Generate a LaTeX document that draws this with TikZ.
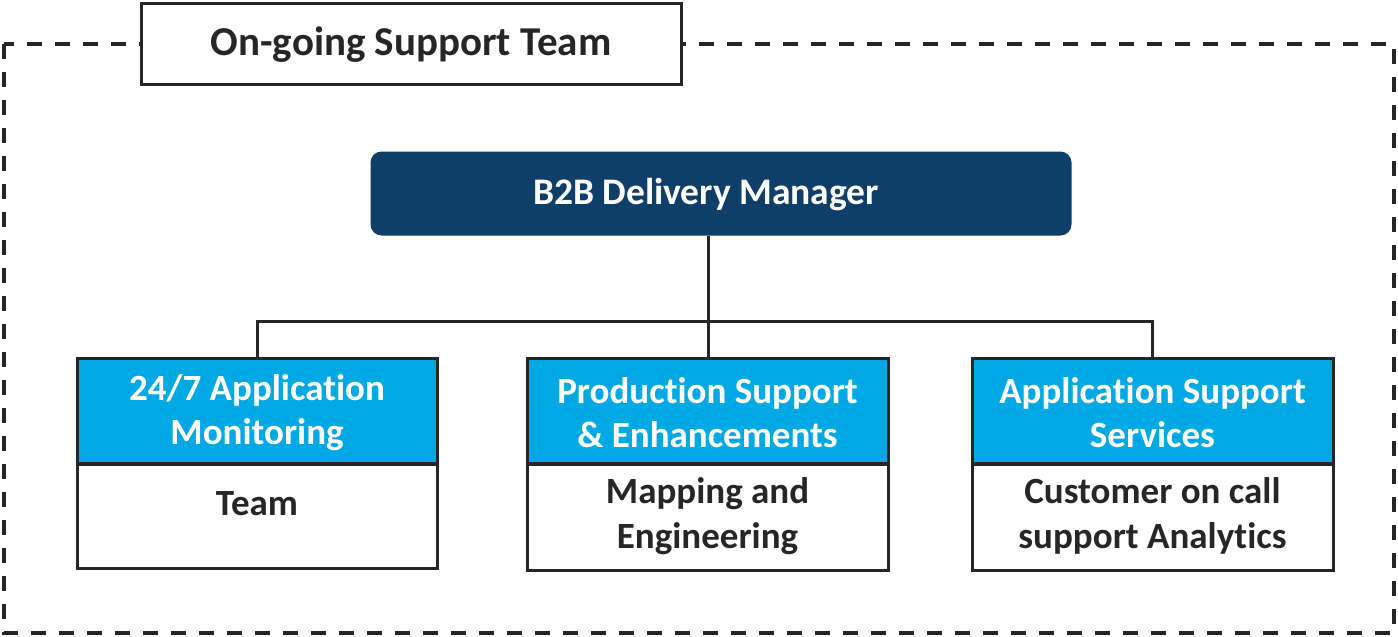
\documentclass[tikz,border=0pt]{standalone}
\usepackage{fontspec}
\setmainfont{Carlito}[Ligatures={NoCommon}]
\definecolor{navy}{HTML}{0F3F69}
\definecolor{cyanhdr}{HTML}{00A9E4}
\definecolor{ink}{HTML}{262626}
\begin{document}
\begin{tikzpicture}[x=1pt,y=-1pt,
  frame/.style={draw=ink,line width=3.3pt,dash pattern=on 15pt off 13pt},
  titlebox/.style={draw=ink,fill=white,line width=3pt},
  mgr/.style={fill=navy,rounded corners=11pt},
  hdr/.style={draw=ink,fill=cyanhdr,line width=3pt},
  body/.style={draw=ink,fill=white,line width=3pt},
  link/.style={draw=ink,line width=3pt},
  hdrtxt/.style={text=white,font=\bfseries\fontsize{37}{44}\selectfont,align=center},
  bodytxt/.style={text=ink,font=\bfseries\fontsize{37}{45}\selectfont,align=center}]
\useasboundingbox (0,0) rectangle (1398,637);
% outer dashed frame
\draw[frame] (4,44) rectangle (1394,633);
% title
\node[titlebox,minimum width=540pt,minimum height=81pt,inner sep=0pt] (title) at (411,43.5) {};
\node[text=ink,font=\bfseries\fontsize{41}{48}\selectfont] (titletxt) at (411,45) {On-going Support Team};
% manager
\node[mgr,minimum width=701pt,minimum height=84pt,inner sep=0pt] (mgr) at (721,193.5) {};
\node[text=white,font=\bfseries\fontsize{37.5}{44}\selectfont] (mgrtxt) at (706,195) {B2B Delivery Manager};
% headers
\node[hdr,minimum width=360pt,minimum height=105pt,inner sep=0pt] (h1) at (257,411) {};
\node[hdr,minimum width=361pt,minimum height=105pt,inner sep=0pt] (h2) at (707.5,411) {};
\node[hdr,minimum width=361pt,minimum height=105pt,inner sep=0pt] (h3) at (1152.5,411) {};
% bodies
\node[body,minimum width=360pt,minimum height=104pt,inner sep=0pt] (b1) at (257,516) {};
\node[body,minimum width=361pt,minimum height=106pt,inner sep=0pt] (b2) at (707.5,517) {};
\node[body,minimum width=361pt,minimum height=106pt,inner sep=0pt] (b3) at (1152.5,517) {};
% texts
\node[hdrtxt] (h1t) at (257,413) {24/7 Application\\Monitoring};
\node[hdrtxt] (h2t) at (707.5,413) {Production Support\\\& Enhancements};
\node[hdrtxt] (h3t) at (1152.5,413) {Application Support\\Services};
\node[bodytxt] (b1t) at (257,504) {Team};
\node[bodytxt] (b2t) at (707.5,516) {Mapping and\\Engineering};
\node[bodytxt] (b3t) at (1152.5,516) {Customer on call\\support Analytics};
% connectors
\coordinate (jn) at (708,321);
\draw[link] (mgr.south -| jn) -- (h2.north -| jn);
\draw[link] (h1.north) -- (h1.north |- jn) -- (h3.north |- jn) -- (h3.north);
\end{tikzpicture}
\end{document}
